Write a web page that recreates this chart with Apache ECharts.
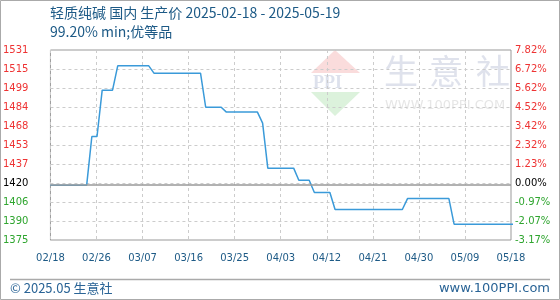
<!DOCTYPE html>
<html><head><meta charset="utf-8">
<script src="https://cdn.jsdelivr.net/npm/echarts@6/dist/echarts.min.js"></script>
<style>html,body{margin:0;padding:0;background:#fff}#c{width:560px;height:300px}</style>
</head><body><div id="c"></div>
<script>
// ---- data ----
const dates = ['2025-02-18','2025-02-25','2025-02-26','2025-02-27','2025-02-28','2025-03-02','2025-03-03',
  '2025-03-09','2025-03-10','2025-03-19','2025-03-20','2025-03-23','2025-03-24','2025-03-30','2025-03-31',
  '2025-04-01','2025-04-06','2025-04-07','2025-04-09','2025-04-10','2025-04-13','2025-04-14','2025-04-27',
  '2025-04-28','2025-05-06','2025-05-07','2025-05-19'];
const prices = [1420,1420,1460,1460,1498,1498,1518,
  1518,1512,1512,1484,1484,1480,1480,1471,
  1434,1434,1424,1424,1414,1414,1400,1400,
  1409,1409,1388,1388];
const xTickLabels = ['02/18','02/26','03/07','03/16','03/25','04/03','04/12','04/21','04/30','05/09','05/18'];
const leftTickLabels = ['1375','1390','1406','1420','1437','1453','1468','1484','1499','1515','1531'];
const rightTickLabels = ['-3.17%','-2.07%','-0.97%','0.00%','1.23%','2.32%','3.42%','4.52%','5.62%','6.72%','7.82%'];
const basePrice = 1420;
const baseTickIndex = 3;
const yMin = 1375, yMax = 1531;
const axisStartDate = '2025-02-18', axisEndDate = '2025-05-18';
const title1 = '轻质纯碱 国内 生产价 2025-02-18 - 2025-05-19';
const title2 = '99.20% min;优等品';
const footLeft = '© 2025.05 生意社';
const footRight = 'www.100PPI.com';

// ---- build ----
const DAY = 86400000;
const dayOf = d => Math.round((Date.parse(d) - Date.parse(axisStartDate)) / DAY);
const seriesData = dates.map((d, i) => [dayOf(d), prices[i]]);
const nTicks = xTickLabels.length - 1;
const RED = '#ee3333', GREEN = '#2fa52f', BLACK = '#000';
const tickColor = v => { const i = Math.round(Number(v)); return i > baseTickIndex ? RED : (i < baseTickIndex ? GREEN : BLACK); };
const BLUE_TXT = '#1d5a86';
const FONT = 'DejaVu Sans';

const chart = echarts.init(document.getElementById('c'), null, {renderer: 'canvas'});
chart.setOption({
  animation: false,
  backgroundColor: '#fff',
  grid: {left: 50, right: 49, top: 50, bottom: 60, show: true, borderColor: '#999', borderWidth: 1, backgroundColor: 'transparent'},
  graphic: [
    {type: 'rect', z: -100, shape: {x: 0.5, y: 0.5, width: 559, height: 299}, style: {fill: null, stroke: '#aaa', lineWidth: 1}},
    {type: 'line', z: -100, shape: {x1: 10, y1: 279.5, x2: 550, y2: 279.5}, style: {stroke: '#aaa', lineWidth: 1.5}},
    {type: 'text', left: 50, top: 6, style: {text: title1, font: '14px "Noto Sans CJK SC", sans-serif', fill: BLUE_TXT}},
    {type: 'text', left: 50, top: 25, style: {text: title2, font: '14px "Noto Sans CJK SC", sans-serif', fill: BLUE_TXT}},
    {type: 'text', left: 10, top: 282, style: {text: footLeft, font: '13px "Noto Sans CJK SC", sans-serif', fill: '#2a6496'}},
    {type: 'text', right: 10, top: 282, style: {text: footRight, font: '13px "DejaVu Sans", sans-serif', fill: '#2a6496'}},
    // watermark
    {type: 'polygon', z: -50, shape: {points: [[335, 50], [360, 73], [311, 73]]}, style: {fill: '#fadcdc'}},
    {type: 'polygon', z: -50, shape: {points: [[311, 92], [360, 92], [335, 116]]}, style: {fill: '#dcf2dc'}},
    {type: 'text', z: -50, x: 313, y: 74, style: {text: 'PPI', font: 'bold 18px "Liberation Serif", serif', fill: '#dde1ec'}},
    {type: 'text', z: -50, x: 384, y: 54, style: {text: '生', font: '34px "Noto Sans CJK SC", sans-serif', fill: '#dfe2ec'}},
    {type: 'text', z: -50, x: 429, y: 54, style: {text: '意', font: '34px "Noto Sans CJK SC", sans-serif', fill: '#dfe2ec'}},
    {type: 'text', z: -50, x: 476, y: 54, style: {text: '社', font: '34px "Noto Sans CJK SC", sans-serif', fill: '#dfe2ec'}},
    {type: 'text', z: -50, x: 385, y: 99, style: {text: 'WWW.100PPI.COM', font: '13px "DejaVu Sans", sans-serif', fill: '#e6e6e6'}}
  ],
  xAxis: [
    {type: 'value', min: 0, max: dayOf(axisEndDate), show: false},
    {type: 'value', min: 0, max: nTicks, interval: 1, position: 'bottom',
      axisLine: {show: false}, axisTick: {show: false},
      splitLine: {show: true, lineStyle: {color: '#ccc', type: [3, 3], width: 1}},
      axisLabel: {margin: 13, fontFamily: FONT, fontSize: 10, color: BLUE_TXT,
        formatter: v => xTickLabels[Math.round(v)]}}
  ],
  yAxis: [
    {type: 'value', min: yMin, max: yMax, show: false},
    {type: 'value', min: 0, max: leftTickLabels.length - 1, interval: 1, position: 'left',
      axisLine: {show: false}, axisTick: {show: false},
      splitLine: {show: true, lineStyle: {color: '#ccc', type: [3, 3], width: 1}},
      axisLabel: {margin: 22, fontFamily: FONT, fontSize: 10, color: tickColor,
        formatter: v => leftTickLabels[Math.round(v)]}},
    {type: 'value', min: 0, max: rightTickLabels.length - 1, interval: 1, position: 'right',
      axisLine: {show: false}, axisTick: {show: false}, splitLine: {show: false},
      axisLabel: {margin: 4, fontFamily: FONT, fontSize: 10, color: tickColor,
        formatter: v => rightTickLabels[Math.round(v)]}}
  ],
  series: [{
    type: 'line', xAxisIndex: 0, yAxisIndex: 0, data: seriesData,
    symbol: 'none', lineStyle: {color: '#3a9ad9', width: 1.5}, clip: true,
    markLine: {silent: true, symbol: 'none', label: {show: false},
      lineStyle: {color: '#999', type: 'solid', width: 1.5},
      data: [{yAxis: basePrice}]}
  }]
});
</script></body></html>
